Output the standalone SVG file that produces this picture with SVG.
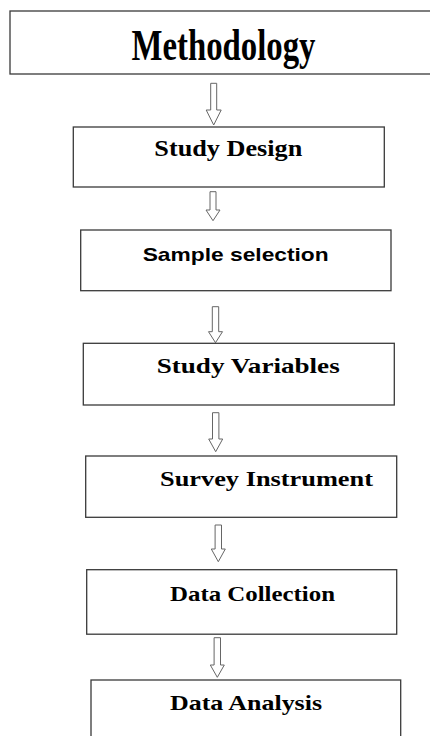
<svg xmlns="http://www.w3.org/2000/svg" width="430" height="736" viewBox="0 0 430 736">
<style>
.box{fill:#fff;stroke:#3a3a3a;stroke-width:1.3}
.arr{fill:#fff;stroke:#666;stroke-width:1}
.serif{font-family:"Liberation Serif","Times New Roman",serif;font-weight:bold;fill:#000}
.sans{font-family:"Liberation Sans",Arial,sans-serif;font-weight:bold;fill:#000}
</style>
<rect width="430" height="736" fill="#fff"/>
<g id="connectors">
<path class="arr" d="M210.7,83.3 H216.7 V110 H221.2 L213.7,125 L206.2,110 H210.7 Z"/>
<path class="arr" d="M210,191.7 H216 V210 H220 L213,220.7 L206,210 H210 Z"/>
<path class="arr" d="M212.3,306.7 H218.7 V331.7 H222.5 L215.5,342.7 L208.5,331.7 H212.3 Z"/>
<path class="arr" d="M212.5,412.7 H218.9 V439 H222.7 L215.7,451.7 L208.7,439 H212.5 Z"/>
<path class="arr" d="M215.1,525 H221.5 V549 H225.3 L218.3,561.7 L211.3,549 H215.1 Z"/>
<path class="arr" d="M214.1,637.7 H220.5 V665 H224.3 L217.3,677.3 L210.3,665 H214.1 Z"/>
</g>
<g id="n1"><rect class="box" x="10" y="11" width="430" height="63"/><text class="serif" x="131.5" y="59.5" font-size="45" textLength="184" lengthAdjust="spacingAndGlyphs">Methodology</text></g>
<g id="n2"><rect class="box" x="73.3" y="127" width="311" height="60"/><text class="serif" x="154.3" y="156" font-size="23" textLength="148" lengthAdjust="spacingAndGlyphs">Study Design</text></g>
<g id="n3"><rect class="box" x="80.7" y="230" width="310.3" height="60.7"/><text class="sans" x="142.7" y="260.7" font-size="19" textLength="186" lengthAdjust="spacingAndGlyphs">Sample selection</text></g>
<g id="n4"><rect class="box" x="83.3" y="343.3" width="311" height="61.7"/><text class="serif" x="156.7" y="372.7" font-size="22" textLength="183" lengthAdjust="spacingAndGlyphs">Study Variables</text></g>
<g id="n5"><rect class="box" x="85.7" y="456" width="311" height="61.3"/><text class="serif" x="160" y="486" font-size="22" textLength="213" lengthAdjust="spacingAndGlyphs">Survey Instrument</text></g>
<g id="n6"><rect class="box" x="86.7" y="569.7" width="310" height="64.5"/><text class="serif" x="170" y="600.5" font-size="22" textLength="165" lengthAdjust="spacingAndGlyphs">Data Collection</text></g>
<g id="n7"><rect class="box" x="91" y="680" width="309.7" height="80"/><text class="serif" x="170" y="710" font-size="22" textLength="152" lengthAdjust="spacingAndGlyphs">Data Analysis</text></g>
</svg>
